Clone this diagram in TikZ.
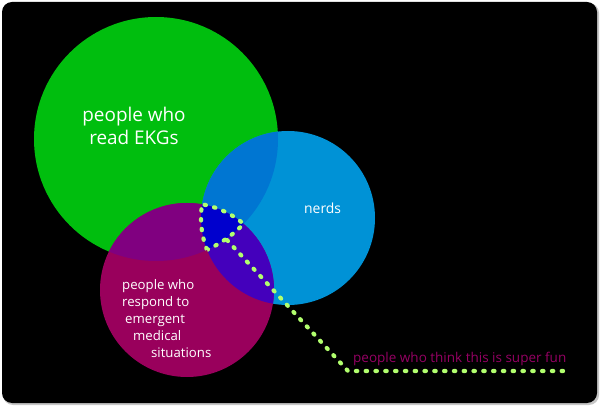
\documentclass[tikz,border=0pt]{standalone}
\usepackage{fontspec}
\setmainfont{Open Sans}
\usetikzlibrary{positioning}
\definecolor{ekggreen}{RGB}{0,190,14}
\definecolor{nerdblue}{RGB}{0,146,214}
\definecolor{medred}{RGB}{153,0,92}
\definecolor{greenblue}{RGB}{0,118,210}
\definecolor{greenred}{RGB}{128,0,128}
\definecolor{bluered}{RGB}{68,0,188}
\definecolor{allthree}{RGB}{0,0,205}
\definecolor{dotgreen}{RGB}{178,255,110}
\definecolor{funred}{RGB}{150,0,100}

\begin{document}
\begin{tikzpicture}[x=1pt, y=-1pt,
  dots/.style={draw=dotgreen, line width=4.2pt, line cap=round, dash pattern=on 1.4pt off 8.4pt},
  venntext/.style={text=white, inner sep=0pt}]
\useasboundingbox (0,0) rectangle (600,406);
\fill[gray!45, rounded corners=10pt] (3,3) rectangle (599,405);
\fill[black, rounded corners=10pt] (2,2) rectangle (597,403);

\coordinate (G) at (156,139);
\coordinate (B) at (288,218);
\coordinate (M) at (187,290);

% the three sets
\fill[ekggreen] (G) circle[radius=122pt];
\fill[nerdblue] (B) circle[radius=87pt];
\fill[medred] (M) circle[radius=87pt];

% overlaps
\begin{scope}
\clip (B) circle[radius=87pt];
\fill[bluered] (M) circle[radius=87pt];
\end{scope}
\begin{scope}
\clip (G) circle[radius=122pt];
\fill[greenblue] (B) circle[radius=87pt];
\fill[greenred] (M) circle[radius=87pt];
\clip (B) circle[radius=87pt];
\fill[allthree] (M) circle[radius=87pt];
\end{scope}

% dotted outline of the middle part
\begin{scope}
\clip (G) circle[radius=122pt];
\clip (B) circle[radius=87pt];
\draw[dots] (M) circle[radius=87pt];
\end{scope}
\begin{scope}
\clip (G) circle[radius=122pt];
\clip (M) circle[radius=87pt];
\draw[dots] (B) circle[radius=87pt];
\end{scope}
\begin{scope}
\clip (B) circle[radius=87pt];
\clip (M) circle[radius=87pt];
\draw[dots] (G) circle[radius=122pt];
\end{scope}

\coordinate (tip) at (227,240);
\coordinate (bend) at (348,371);
\coordinate (tail) at (567,371);
\draw[dots] (tip) -- (bend) -- (tail);

\node[venntext, font=\fontsize{18.9}{23}\selectfont, align=center] (ekg) at (134,126) {people who\\read EKGs};
\node[venntext, font=\fontsize{13.9}{17}\selectfont, anchor=base west] (nerds) at (304,214) {nerds};
\node[venntext, font=\fontsize{13.2}{17}\selectfont, align=left, anchor=north west] (medical) at (122,279.5)
  {people who\\respond to\\\hspace*{3pt}emergent\\\hspace*{11pt}medical\\\hspace*{29pt}situations};
\node[text=funred, inner sep=0pt, font=\fontsize{13.5}{15}\selectfont, anchor=base west] (fun) at (353,362)
  {people who think this is super fun};

\end{tikzpicture}
\end{document}
